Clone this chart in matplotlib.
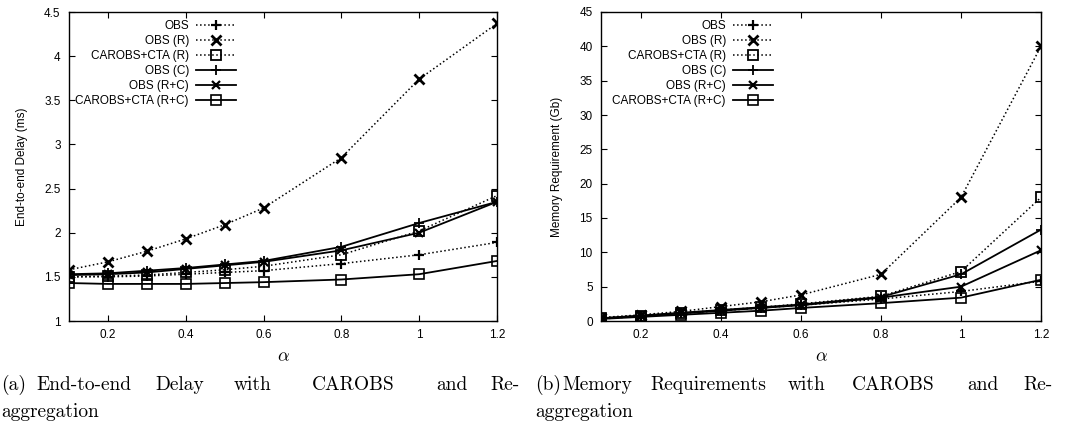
import numpy as np
import matplotlib
matplotlib.use("Agg")
import matplotlib.pyplot as plt
from matplotlib.ticker import FormatStrFormatter

plt.rcParams['font.family'] = ['Liberation Sans', 'DejaVu Sans']
plt.rcParams['mathtext.fontset'] = 'cm'

alpha = [0.1, 0.2, 0.3, 0.4, 0.5, 0.6, 0.8, 1.0, 1.2]
labels = ['OBS', 'OBS (R)', 'CAROBS+CTA (R)', 'OBS (C)', 'OBS (R+C)', 'CAROBS+CTA (R+C)']

# (a) end-to-end delay, ms
delay_obs      = [1.50, 1.50, 1.51, 1.53, 1.55, 1.57, 1.65, 1.75, 1.89]
delay_obs_r    = [1.58, 1.67, 1.79, 1.93, 2.09, 2.28, 2.85, 3.74, 4.37]
delay_car_r    = [1.50, 1.51, 1.52, 1.55, 1.58, 1.62, 1.75, 2.02, 2.42]
delay_obs_c    = [1.53, 1.54, 1.57, 1.60, 1.64, 1.68, 1.84, 2.11, 2.35]
delay_obs_rc   = [1.52, 1.53, 1.55, 1.59, 1.63, 1.67, 1.80, 2.00, 2.35]
delay_car_rc   = [1.43, 1.42, 1.42, 1.42, 1.43, 1.44, 1.47, 1.53, 1.68]

# (b) memory requirement, Gb
mem_obs    = [0.3, 0.7, 1.1, 1.5, 1.9, 2.3, 3.2, 4.3, 5.8]
mem_obs_r  = [0.5, 0.9, 1.4, 2.1, 2.8, 3.8, 6.8, 18.0, 40.0]
mem_car_r  = [0.4, 0.8, 1.2, 1.6, 2.0, 2.5, 3.6, 7.2, 18.0]
mem_obs_c  = [0.4, 0.8, 1.2, 1.6, 2.0, 2.4, 3.5, 6.8, 13.3]
mem_obs_rc = [0.4, 0.7, 1.1, 1.5, 1.9, 2.3, 3.4, 5.0, 10.3]
mem_car_rc = [0.3, 0.6, 0.9, 1.2, 1.5, 1.9, 2.6, 3.4, 6.0]

W, H = 1075, 425
fig = plt.figure(figsize=(W / 100, H / 100), dpi=100)

def px_axes(x0, y0, x1, y1):
    # pixel box (top-left origin) -> figure fraction
    return fig.add_axes([x0 / W, 1 - y1 / H, (x1 - x0) / W, (y1 - y0) / H])

styles = [
    dict(ls=':', marker='+', ms=7, mew=1.6, lw=1.1),
    dict(ls=':', marker='x', ms=7, mew=2.0, lw=1.1),
    dict(ls=':', marker='s', ms=7, mew=1.3, lw=1.1, mfc='none'),
    dict(ls='-', marker='+', ms=7, mew=1.3, lw=1.3),
    dict(ls='-', marker='x', ms=6, mew=1.6, lw=1.3),
    dict(ls='-', marker='s', ms=7, mew=1.2, lw=1.3, mfc='none'),
]

def panel(ax, series, ylim, yticks, ylabel):
    for y, lab, st in zip(series, labels, styles):
        ax.plot(alpha, y, color='black', label=lab, **st)
    ax.set_xlim(0.1, 1.2)
    ax.set_ylim(*ylim)
    ax.set_xticks([0.2, 0.4, 0.6, 0.8, 1.0, 1.2])
    ax.set_yticks(yticks)
    ax.xaxis.set_major_formatter(FormatStrFormatter('%g'))
    ax.yaxis.set_major_formatter(FormatStrFormatter('%g'))
    ax.tick_params(direction='in', top=True, right=True, length=4, width=0.8,
                   labelsize=8.5, pad=6)
    for s in ax.spines.values():
        s.set_linewidth(1.0)
    ax.set_xlabel(r'$\alpha$', fontsize=13, labelpad=5)
    ax.set_ylabel(ylabel, fontsize=8.5, labelpad=12)
    ax.legend(loc='upper right', bbox_to_anchor=(0.41, 1.0), frameon=False,
              markerfirst=False, fontsize=8.5, handlelength=3.4,
              labelspacing=0.25, handletextpad=0.6, borderaxespad=0.3,
              numpoints=1)

ax1 = px_axes(69, 12, 497, 321)
panel(ax1, [delay_obs, delay_obs_r, delay_car_r, delay_obs_c, delay_obs_rc, delay_car_rc],
      (1, 4.5), [1, 1.5, 2, 2.5, 3, 3.5, 4, 4.5], 'End-to-end Delay (ms)')

ax2 = px_axes(601, 12, 1041, 321)
panel(ax2, [mem_obs, mem_obs_r, mem_car_r, mem_obs_c, mem_obs_rc, mem_car_rc],
      (0, 45), [0, 5, 10, 15, 20, 25, 30, 35, 40, 45], 'Memory Requirement (Gb)')

# justified captions, words placed at their left edges (pixels)
cap_font = dict(fontfamily='cmr10', fontsize=14, va='center')
cap_a = [(1, '(a)'), (36, 'End-to-end'), (155, 'Delay'), (234, 'with'),
         (312, 'CAROBS'), (436, 'and'), (490, 'Re-')]
cap_b = [(535, '(b)'), (562, 'Memory'), (650, 'Requirements'), (788, 'with'),
         (852, 'CAROBS'), (967, 'and'), (1023, 'Re-')]
for x, w in cap_a + cap_b:
    fig.text(x / W, 1 - 385 / H, w, **cap_font)
fig.text(1 / W, 1 - 412 / H, 'aggregation', **cap_font)
fig.text(535 / W, 1 - 412 / H, 'aggregation', **cap_font)

fig.savefig('out.png', dpi=100, facecolor='white')
